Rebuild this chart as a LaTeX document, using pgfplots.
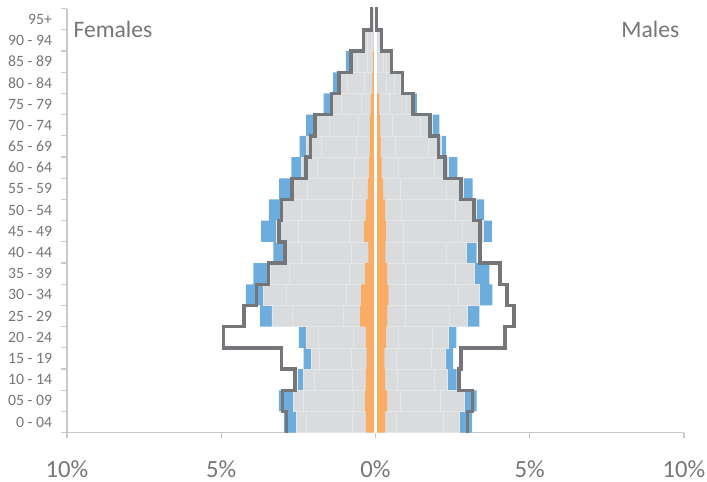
\documentclass[border=0pt]{standalone}
\usepackage{pgfplots}
\pgfplotsset{compat=1.18}
\usepackage{pgfplotstable}
\usepackage{fontspec}
\setmainfont{Carlito}
\definecolor{cblue}{RGB}{108,173,222}
\definecolor{cgrey}{RGB}{218,219,221}
\definecolor{cgreyedge}{RGB}{229,230,232}
\definecolor{corange}{RGB}{250,172,100}
\definecolor{cline}{RGB}{117,118,122}
\definecolor{ctext}{RGB}{118,118,118}
\definecolor{caxis}{RGB}{200,200,200}

% bars: cumulative extents (in %) of each stacked segment, females (F) and males (M)
\pgfplotstableread{
y    Fb   Fg3  Fg2  Fg1  Fo   Mo   Mg1  Mg2  Mg3  Mb
0.5  2.97 2.57 2.23 0.74 0.31 0.31 0.66 2.20 2.71 3.12
1.5  3.13 2.67 2.34 0.72 0.34 0.38 0.79 2.09 2.88 3.28
2.5  2.52 2.33 2.00 0.75 0.31 0.31 0.70 1.90 2.34 2.63
3.5  2.33 2.09 1.82 0.78 0.29 0.29 0.69 1.80 2.25 2.52
4.5  2.48 2.23 1.85 0.72 0.31 0.34 0.74 1.85 2.36 2.62
5.5  3.74 3.36 2.70 1.04 0.50 0.38 0.96 2.40 2.99 3.37
6.5  4.20 3.64 2.90 0.95 0.47 0.42 0.95 2.70 3.35 3.79
7.5  3.96 3.42 2.80 0.85 0.34 0.38 0.96 2.60 3.20 3.69
8.5  3.31 3.00 2.40 0.80 0.23 0.32 0.90 2.30 2.93 3.28
9.5  3.71 3.20 2.50 0.85 0.37 0.34 0.90 2.80 3.49 3.77
10.5 3.46 3.05 2.40 0.80 0.31 0.31 0.85 2.60 3.28 3.52
11.5 3.12 2.72 2.20 0.75 0.25 0.25 0.80 2.30 2.85 3.15
12.5 2.73 2.39 1.90 0.70 0.21 0.20 0.75 1.90 2.36 2.65
13.5 2.46 2.23 1.75 0.62 0.18 0.17 0.65 1.70 2.12 2.29
14.5 2.25 1.96 1.50 0.55 0.18 0.15 0.55 1.45 1.85 2.07
15.5 1.68 1.47 1.10 0.45 0.15 0.12 0.45 1.00 1.23 1.34
16.5 1.37 1.21 0.90 0.35 0.10 0.05 0.35 0.60 0.80 0.87
17.5 0.96 0.83 0.60 0.25 0.08 0.03 0.25 0.35 0.48 0.52
18.5 0.42 0.35 0.25 0.12 0.03 0.02 0.10 0.15 0.18 0.20
19.5 0.12 0.10 0.08 0.05 0.00 0.00 0.03 0.04 0.04 0.05
}\data

\begin{document}
\begin{tikzpicture}
\useasboundingbox (-50.25pt,-37pt) rectangle (480pt,324.5pt);
\begin{axis}[
  width=462.75pt, height=318pt, scale only axis,
  xmin=-10, xmax=10, ymin=0, ymax=20,
  axis x line*=bottom, axis y line*=left,
  axis line style={caxis, line width=0.9pt, -},
  xtick={-10,-5,0,5,10},
  xticklabels={10\%,5\%,0\%,5\%,10\%},
  ytick={0,1,...,20},
  yticklabels={0 - 04,05 - 09,10 - 14,15 - 19,20 - 24,25 - 29,30 - 34,35 - 39,40 - 44,45 - 49,50 - 54,55 - 59,60 - 64,65 - 69,70 - 74,75 - 79,80 - 84,85 - 89,90 - 94,95+},
  y tick label as interval,
  tick align=outside,
  major tick length=4.3pt,
  tick style={caxis, line width=0.9pt},
  xticklabel style={font=\fontsize{18.5}{20}\selectfont, text=ctext, yshift=-13pt},
  yticklabel style={font=\fontsize{11.8}{13}\selectfont, text=ctext, xshift=-3.4pt},
  clip=false,
]
% Females
\addplot[xbar, bar width=1, bar shift=0pt, fill=cblue, draw=none] table[x expr=-\thisrow{Fb}, y=y] {\data};
\addplot[xbar, bar width=1, bar shift=0pt, fill=cgrey, draw=cgreyedge, line width=0.45pt] table[x expr=-\thisrow{Fg3}, y=y] {\data};
\addplot[xbar, bar width=1, bar shift=0pt, fill=cgrey, draw=cgreyedge, line width=0.45pt] table[x expr=-\thisrow{Fg2}, y=y] {\data};
\addplot[xbar, bar width=1, bar shift=0pt, fill=cgrey, draw=cgreyedge, line width=0.45pt] table[x expr=-\thisrow{Fg1}, y=y] {\data};
\addplot[xbar, bar width=1, bar shift=0pt, fill=corange, draw=none] table[x expr=-\thisrow{Fo}, y=y] {\data};
% Males
\addplot[xbar, bar width=1, bar shift=0pt, fill=cblue, draw=none] table[x=Mb, y=y] {\data};
\addplot[xbar, bar width=1, bar shift=0pt, fill=cgrey, draw=cgreyedge, line width=0.45pt] table[x=Mg3, y=y] {\data};
\addplot[xbar, bar width=1, bar shift=0pt, fill=cgrey, draw=cgreyedge, line width=0.45pt] table[x=Mg2, y=y] {\data};
\addplot[xbar, bar width=1, bar shift=0pt, fill=cgrey, draw=cgreyedge, line width=0.45pt] table[x=Mg1, y=y] {\data};
\addplot[xbar, bar width=1, bar shift=0pt, fill=corange, draw=none] table[x=Mo, y=y] {\data};
% central gap
\draw[white, line width=2.2pt] (axis cs:0,0) -- (axis cs:0,20);
% comparison outline, females
\addplot[cline, line width=2.6pt, mark=none, line join=miter] coordinates {
(-2.88,0) (-2.88,1) (-3.02,1) (-3.02,2) (-2.61,2) (-2.61,3) (-3.04,3) (-3.04,4)
(-4.93,4) (-4.93,5) (-4.26,5) (-4.26,6) (-3.85,6) (-3.85,7) (-3.47,7) (-3.47,8)
(-2.93,8) (-2.93,9) (-3.13,9) (-3.13,10) (-3.04,10) (-3.04,11) (-2.70,11) (-2.70,12)
(-2.25,12) (-2.25,13) (-2.10,13) (-2.10,14) (-1.96,14) (-1.96,15) (-1.43,15) (-1.43,16)
(-1.18,16) (-1.18,17) (-0.80,17) (-0.80,18) (-0.39,18) (-0.39,19) (-0.13,19) (-0.13,20.1)
};
% comparison outline, males
\addplot[cline, line width=2.6pt, mark=none, line join=miter] coordinates {
(2.98,0) (2.98,1) (3.15,1) (3.15,2) (2.70,2) (2.70,3) (2.77,3) (2.77,4)
(4.20,4) (4.20,5) (4.49,5) (4.49,6) (4.26,6) (4.26,7) (4.03,7) (4.03,8)
(3.38,8) (3.38,9) (3.38,9) (3.38,10) (3.20,10) (3.20,11) (2.77,11) (2.77,12)
(2.25,12) (2.25,13) (2.04,13) (2.04,14) (1.77,14) (1.77,15) (1.21,15) (1.21,16)
(0.88,16) (0.88,17) (0.52,17) (0.52,18) (0.19,18) (0.19,19) (0.03,19) (0.03,20.1)
};
\node[anchor=west, text=ctext, font=\fontsize{17.7}{19}\selectfont] at (rel axis cs:0.003,0.95) {Females};
\node[anchor=east, text=ctext, font=\fontsize{17.7}{19}\selectfont] at (rel axis cs:1.0,0.95) {Males};
\end{axis}
\end{tikzpicture}
\end{document}
